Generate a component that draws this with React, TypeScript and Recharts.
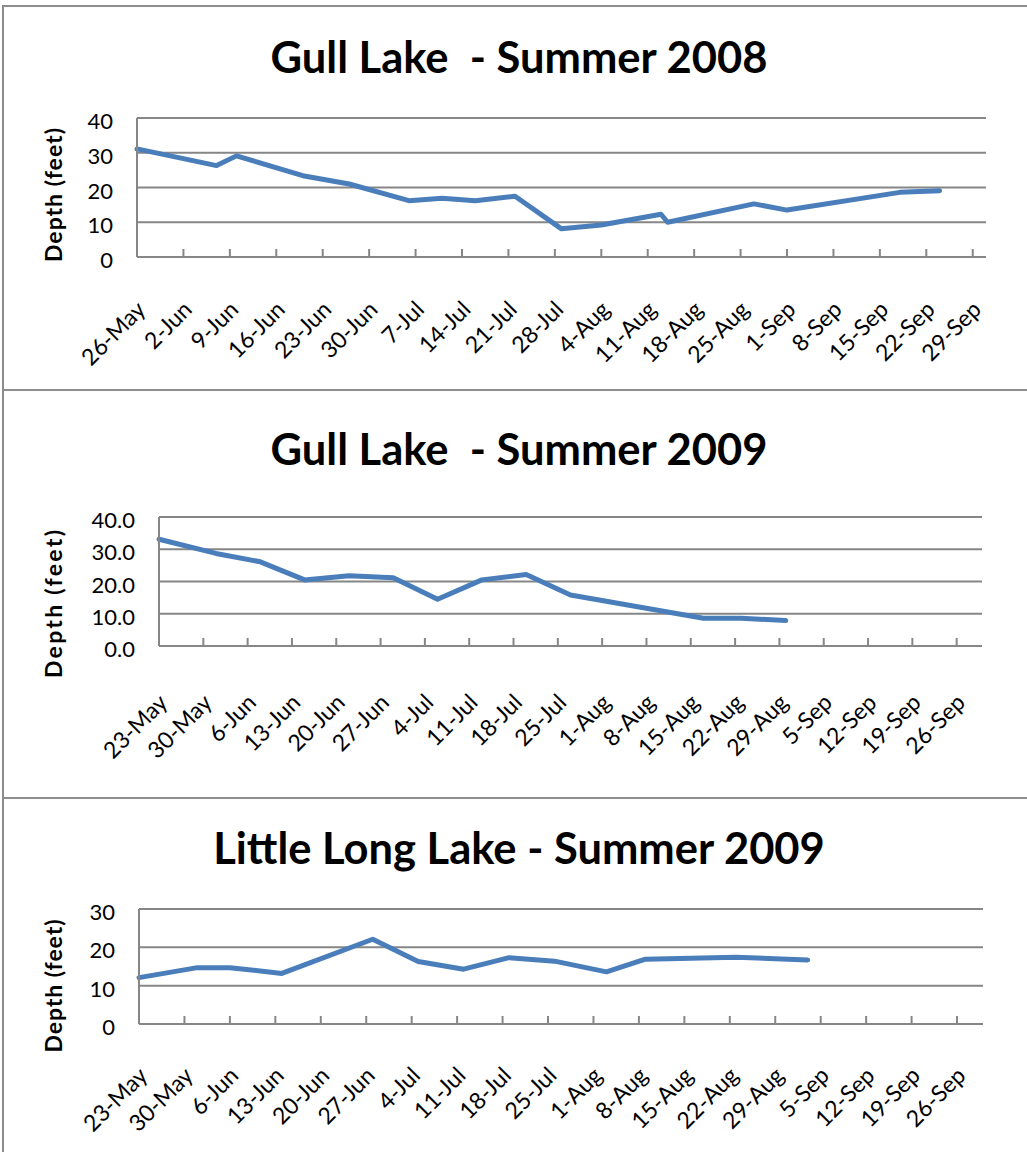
import React from "react";
import { CartesianGrid, Line, LineChart, XAxis, YAxis } from "recharts";

const GRID = "#868686";
const BLUE = "#4a7ebb";
const FONT = "Lato, 'Open Sans', sans-serif";

const months: Record<string, number> = { May: 4, Jun: 5, Jul: 6, Aug: 7, Sep: 8, Oct: 9 };

// weekly date-axis labels
const ticks2008 = ["26-May", "2-Jun", "9-Jun", "16-Jun", "23-Jun", "30-Jun", "7-Jul", "14-Jul", "21-Jul", "28-Jul", "4-Aug", "11-Aug", "18-Aug", "25-Aug", "1-Sep", "8-Sep", "15-Sep", "22-Sep", "29-Sep"];
const ticks2009 = ["23-May", "30-May", "6-Jun", "13-Jun", "20-Jun", "27-Jun", "4-Jul", "11-Jul", "18-Jul", "25-Jul", "1-Aug", "8-Aug", "15-Aug", "22-Aug", "29-Aug", "5-Sep", "12-Sep", "19-Sep", "26-Sep"];

// Gull Lake - Summer 2008
const gull2008Dates = ["26-May", "7-Jun", "10-Jun", "20-Jun", "27-Jun", "6-Jul", "11-Jul", "16-Jul", "22-Jul", "29-Jul", "4-Aug", "13-Aug", "14-Aug", "27-Aug", "1-Sep", "18-Sep", "24-Sep"];
const gull2008Depth = [31.1, 26.3, 29.1, 23.4, 21.0, 16.2, 16.9, 16.2, 17.5, 8.1, 9.2, 12.3, 10.0, 15.3, 13.5, 18.6, 19.1];

// Gull Lake - Summer 2009
const gull2009Dates = ["23-May", "1-Jun", "8-Jun", "15-Jun", "22-Jun", "29-Jun", "6-Jul", "13-Jul", "20-Jul", "27-Jul", "17-Aug", "23-Aug", "30-Aug"];
const gull2009Depth = [33.1, 28.7, 26.1, 20.5, 21.8, 21.2, 14.5, 20.5, 22.2, 15.8, 8.6, 8.6, 7.9];

// Little Long Lake - Summer 2009
const littleLongDates = ["23-May", "1-Jun", "6-Jun", "14-Jun", "28-Jun", "5-Jul", "12-Jul", "19-Jul", "26-Jul", "3-Aug", "9-Aug", "23-Aug", "3-Sep"];
const littleLongDepth = [12.1, 14.7, 14.7, 13.2, 22.1, 16.3, 14.3, 17.3, 16.4, 13.6, 16.9, 17.4, 16.7];

function toTime(label: string, year: number) {
  const [d, m] = label.split("-");
  return Date.UTC(year, months[m], Number(d));
}

function buildSeries(dates: string[], depths: number[], start: string, year: number) {
  const t0 = toTime(start, year);
  return dates.map((d, i) => ({
    day: Math.round((toTime(d, year) - t0) / 86400000),
    depth: depths[i],
  }));
}

function makeXTick(labels: string[], labelDy: number) {
  return function XTick(props: any) {
    const { x, y, payload } = props;
    const label = labels[Math.round(payload.value / 7)];
    const ax = x + 10;
    const ay = y + labelDy;
    return (
      <g>
        <line x1={x} y1={y} x2={x} y2={y - 8} stroke={GRID} strokeWidth={2} />
        <text
          x={ax}
          y={ay}
          textAnchor="end"
          fontSize={23}
          fontFamily={FONT}
          fill="#000"
          transform={`rotate(-45 ${ax} ${ay})`}
        >
          {label}
        </text>
      </g>
    );
  };
}

function makeYTick(decimals: number) {
  return function YTick(props: any) {
    const { x, y, payload } = props;
    return (
      <text x={x} y={y + 11} textAnchor="end" fontSize={22} fontFamily={FONT} fill="#000">
        {Number(payload.value).toFixed(decimals)}
      </text>
    );
  };
}

type PanelProps = {
  top: number;
  height: number;
  margin: { top: number; right: number; bottom: number; left: number };
  data: { day: number; depth: number }[];
  tickLabels: string[];
  xMax: number;
  yMax: number;
  decimals: number;
  labelDy: number;
};

function Panel({ top, height, margin, data, tickLabels, xMax, yMax, decimals, labelDy }: PanelProps) {
  const xTicks = tickLabels.map((_, i) => i * 7);
  const yTicks: number[] = [];
  for (let v = 0; v <= yMax; v += 10) yTicks.push(v);
  return (
    <div style={{ position: "absolute", left: 0, top, width: 1027, height }}>
      <LineChart width={1027} height={height} data={data} margin={margin}>
        <CartesianGrid vertical={false} stroke={GRID} strokeWidth={2} />
        <XAxis
          dataKey="day"
          type="number"
          domain={[0, xMax]}
          ticks={xTicks}
          interval={0}
          height={60}
          tickSize={0}
          tickMargin={0}
          tickLine={false}
          axisLine={{ stroke: GRID, strokeWidth: 2 }}
          tick={makeXTick(tickLabels, labelDy)}
        />
        <YAxis
          type="number"
          domain={[0, yMax]}
          ticks={yTicks}
          interval={0}
          width={60}
          tickSize={0}
          tickMargin={24}
          tickLine={false}
          axisLine={{ stroke: GRID, strokeWidth: 2 }}
          tick={makeYTick(decimals)}
        />
        <Line
          type="linear"
          dataKey="depth"
          stroke={BLUE}
          strokeWidth={5}
          strokeLinecap="round"
          strokeLinejoin="round"
          dot={false}
          activeDot={false}
          isAnimationActive={false}
        />
      </LineChart>
    </div>
  );
}

export default function App() {
  const gull2008 = buildSeries(gull2008Dates, gull2008Depth, "26-May", 2008);
  const gull2009 = buildSeries(gull2009Dates, gull2009Depth, "23-May", 2009);
  const littleLong = buildSeries(littleLongDates, littleLongDepth, "23-May", 2009);

  const titleStyle = { fontFamily: FONT, fontWeight: 700, fontSize: 43.5, whiteSpace: "pre" as const };
  const yLabel = (cy: number, len: number) => (
    <text
      x={62}
      y={cy}
      textAnchor="middle"
      fontFamily={FONT}
      fontWeight={700}
      fontSize={23}
      textLength={len}
      lengthAdjust="spacing"
      transform={`rotate(-90 62 ${cy})`}
    >
      Depth (feet)
    </text>
  );

  return (
    <div style={{ position: "absolute", left: 0, top: 0, width: 1027, height: 1152, overflow: "hidden", background: "#fff" }}>
      <Panel
        top={0}
        height={390}
        margin={{ top: 118, right: 41, bottom: 73, left: 77 }}
        data={gull2008}
        tickLabels={ticks2008}
        xMax={128}
        yMax={40}
        decimals={0}
        labelDy={54}
      />
      <Panel
        top={390}
        height={408}
        margin={{ top: 127, right: 45, bottom: 92, left: 99 }}
        data={gull2009}
        tickLabels={ticks2009}
        xMax={130}
        yMax={40}
        decimals={1}
        labelDy={58}
      />
      <Panel
        top={798}
        height={354}
        margin={{ top: 111, right: 44, bottom: 68, left: 79 }}
        data={littleLong}
        tickLabels={ticks2009}
        xMax={130}
        yMax={30}
        decimals={0}
        labelDy={53}
      />
      <svg width={1027} height={1152} style={{ position: "absolute", left: 0, top: 0, pointerEvents: "none" }}>
        <g stroke="#8c8c8c" strokeWidth={2}>
          <line x1={3} y1={6} x2={1027} y2={6} />
          <line x1={3} y1={390} x2={1027} y2={390} />
          <line x1={3} y1={798} x2={1027} y2={798} />
          <line x1={3} y1={5} x2={3} y2={1152} />
        </g>
        <text x={519} y={73} textAnchor="middle" style={titleStyle}>
          {"Gull Lake  - Summer 2008"}
        </text>
        <text x={519} y={465} textAnchor="middle" style={titleStyle}>
          {"Gull Lake  - Summer 2009"}
        </text>
        <text x={519} y={864} textAnchor="middle" style={titleStyle}>
          {"Little Long Lake - Summer 2009"}
        </text>
        {yLabel(195, 134)}
        {yLabel(604, 148)}
        {yLabel(986, 133)}
      </svg>
    </div>
  );
}
